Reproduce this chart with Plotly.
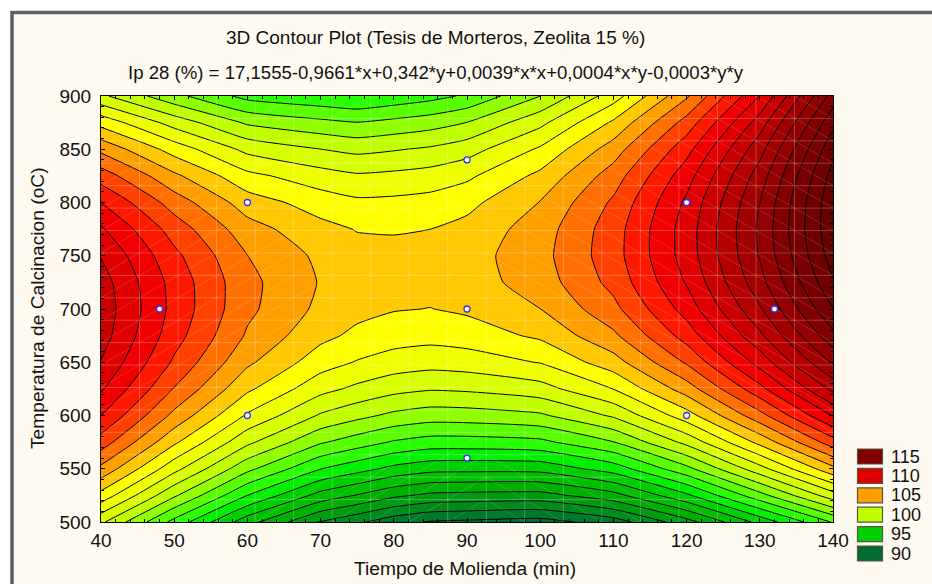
import plotly.graph_objects as go
import numpy as np

title_line1 = "3D Contour Plot (Tesis de Morteros, Zeolita 15 %)"
title_line2 = "Ip 28 (%) = 17,1555-0,9661*x+0,342*y+0,0039*x*x+0,0004*x*y-0,0003*y*y"
x_title = "Tiempo de Molienda (min)"
y_title = "Temperatura de Calcinacion (oC)"

x_values = [40, 50, 60, 70, 75, 80, 85, 90, 100, 110, 120, 130, 140]
y_values = [500, 525, 550, 575, 600, 625, 650, 675, 700, 725, 750, 775, 800, 825, 850, 875, 900]

z_x040 = [100.2, 102.64, 104.75, 106.54, 108.0, 109.14, 109.95, 110.44, 110.6, 110.44, 109.95, 109.14, 108.0, 106.54, 104.75, 102.64, 100.2]
z_x050 = [96.67, 99.16, 101.33, 103.19, 104.73, 105.94, 106.84, 107.42, 107.68, 107.63, 107.25, 106.56, 105.54, 104.21, 102.56, 100.59, 98.3]
z_x060 = [93.4, 96.0, 98.27, 100.23, 101.87, 103.19, 104.19, 104.87, 105.23, 105.28, 105.01, 104.41, 103.5, 102.27, 100.72, 98.85, 96.67]
z_x070 = [90.91, 93.63, 96.03, 98.12, 99.88, 101.33, 102.46, 103.27, 103.76, 103.93, 103.78, 103.32, 102.53, 101.43, 100.01, 98.27, 96.21]
z_x075 = [90.19, 92.94, 95.38, 97.49, 99.29, 100.77, 101.93, 102.77, 103.29, 103.5, 103.38, 102.95, 102.2, 101.13, 99.74, 98.03, 96.0]
z_x080 = [89.39, 92.21, 94.72, 96.9, 98.77, 100.32, 101.55, 102.46, 103.06, 103.33, 103.28, 102.92, 102.24, 101.24, 99.92, 98.28, 96.32]
z_x085 = [88.91, 91.78, 94.34, 96.57, 98.49, 100.09, 101.38, 102.34, 102.98, 103.31, 103.31, 103.0, 102.37, 101.42, 100.15, 98.56, 96.66]
z_x090 = [88.79, 91.7, 94.3, 96.57, 98.53, 100.17, 101.49, 102.49, 103.17, 103.53, 103.58, 103.31, 102.71, 101.8, 100.57, 99.02, 97.15]
z_x100 = [88.58, 91.63, 94.35, 96.75, 98.84, 100.6, 102.05, 103.18, 103.99, 104.48, 104.65, 104.5, 104.04, 103.25, 102.15, 100.73, 98.99]
z_x110 = [89.49, 92.64, 95.46, 97.97, 100.15, 102.02, 103.57, 104.8, 105.71, 106.31, 106.58, 106.53, 106.17, 105.49, 104.49, 103.17, 101.53]
z_x120 = [91.59, 94.81, 97.71, 100.29, 102.56, 104.5, 106.13, 107.43, 108.42, 109.09, 109.44, 109.47, 109.19, 108.58, 107.66, 106.41, 104.85]
z_x130 = [94.33, 97.64, 100.63, 103.3, 105.66, 107.69, 109.4, 110.8, 111.88, 112.64, 113.08, 113.2, 113.0, 112.48, 111.65, 110.49, 109.02]
z_x140 = [97.09, 100.56, 103.72, 106.55, 109.07, 111.27, 113.15, 114.71, 115.96, 116.88, 117.49, 117.77, 117.74, 117.39, 116.72, 115.73, 114.43]
z_columns = [z_x040, z_x050, z_x060, z_x070, z_x075, z_x080, z_x085, z_x090, z_x100, z_x110, z_x120, z_x130, z_x140]

point_x = [48, 60, 60, 90, 90, 90, 120, 120, 132]
point_y = [700, 600, 800, 560, 700, 840, 600, 800, 700]

level_start = 89
level_end = 118
# one colour per band, from below level_start up to above level_end
band_colors = [
    "#006b32", "#007a2a", "#008c1c", "#009c10", "#00b000", "#00c000", "#00d000",
    "#00f000", "#28ff00", "#58ff00", "#90ff00", "#c0ff00", "#d8ff00", "#eeff00",
    "#ffff00", "#ffc800", "#ffa000", "#ff7000", "#ff4000", "#ff1800", "#f00000", "#e00000",
    "#c80000", "#b40000", "#a20000", "#920000", "#800000", "#780000", "#700000", "#680000", "#600000",
]

legend_labels = ["115", "110", "105", "100", "95", "90"]
legend_colors = ["#800000", "#e00000", "#ffa000", "#c0ff00", "#00d000", "#006b32"]

x_ticks = [40, 50, 60, 70, 80, 90, 100, 110, 120, 130, 140]
y_ticks = [500, 550, 600, 650, 700, 750, 800, 850, 900]

PLOT_L, PLOT_R, PLOT_T, PLOT_B = 101, 833, 96, 522
def px(v):
    return (v - PLOT_L) / (PLOT_R - PLOT_L)
def py(v):
    return (PLOT_B - v) / (PLOT_B - PLOT_T)

z = np.array(z_columns).T
n_bands = len(band_colors) - 1
colorscale = [[i / n_bands, c] for i, c in enumerate(band_colors)]

fig = go.Figure()
fig.add_trace(go.Contour(
    x=x_values, y=y_values, z=z,
    colorscale=colorscale, showscale=False,
    autocontour=False,
    contours=dict(coloring="fill", start=level_start, end=level_end, size=1),
    line=dict(color="black", width=1, smoothing=0.5),
    hoverinfo="skip",
))

# pale triangulated mesh of the surface
mesh_x = np.linspace(40, 140, 20)
mesh_y = np.linspace(500, 900, 20)
gx, gy = [], []
for v in mesh_x[1:-1]:
    gx += [v, v, None]; gy += [500, 900, None]
for v in mesh_y[1:-1]:
    gx += [40, 140, None]; gy += [v, v, None]
fig.add_trace(go.Scatter(x=gx, y=gy, mode="lines", hoverinfo="skip", showlegend=False,
                         line=dict(color="rgba(255,255,255,0.24)", width=1)))
dx, dy = [], []
for i in range(19):
    for j in range(19):
        if i < 10:
            dx += [mesh_x[i], mesh_x[i + 1], None]; dy += [mesh_y[j], mesh_y[j + 1], None]
        else:
            dx += [mesh_x[i], mesh_x[i + 1], None]; dy += [mesh_y[j + 1], mesh_y[j], None]
fig.add_trace(go.Scatter(x=dx, y=dy, mode="lines", hoverinfo="skip", showlegend=False,
                         line=dict(color="rgba(255,255,255,0.14)", width=1)))

fig.add_trace(go.Scatter(x=point_x, y=point_y, mode="markers", hoverinfo="skip", showlegend=False,
                         marker=dict(color="white", size=6, line=dict(color="#3030ff", width=1.3))))

shapes = [dict(type="rect", xref="paper", yref="paper", layer="below",
               x0=px(12), x1=px(960), y0=py(12.5), y1=py(610),
               fillcolor="#fffaf0", line=dict(color="#5f5f5f", width=3.5))]
annotations = [
    dict(text=title_line1, x=px(435.5), y=py(37), xref="paper", yref="paper", showarrow=False,
         font=dict(size=19, color="#111111"), xanchor="center", yanchor="middle"),
    dict(text=title_line2, x=px(435.5), y=py(72), xref="paper", yref="paper", showarrow=False,
         font=dict(size=18.6, color="#111111"), xanchor="center", yanchor="middle"),
    dict(text=x_title, x=px(465), y=py(568), xref="paper", yref="paper", showarrow=False,
         font=dict(size=19.2, color="#111111"), xanchor="center", yanchor="middle"),
    dict(text=y_title, x=px(37), y=py(308), xref="paper", yref="paper", showarrow=False, textangle=-90,
         font=dict(size=19.2, color="#111111"), xanchor="center", yanchor="middle"),
]
for i, (lab, col) in enumerate(zip(legend_labels, legend_colors)):
    top = 449 + 19.4 * i
    shapes.append(dict(type="rect", xref="paper", yref="paper", x0=px(857.5), x1=px(882.5),
                       y0=py(top), y1=py(top + 15), fillcolor=col, line=dict(color="#555544", width=1.2)))
    annotations.append(dict(text=lab, x=px(889), y=py(top + 7.5), xref="paper", yref="paper", showarrow=False,
                            font=dict(size=18, color="#111111"), xanchor="left", yanchor="middle"))

axis_common = dict(ticks="inside", ticklen=4, tickcolor="black", tickwidth=1, showgrid=False, zeroline=False,
                   showline=True, linecolor="black", linewidth=1, mirror="ticks",
                   tickfont=dict(size=19, color="#111111"))
fig.update_layout(
    width=932, height=584,
    margin=dict(l=PLOT_L, r=932 - PLOT_R, t=PLOT_T, b=584 - PLOT_B, autoexpand=False),
    paper_bgcolor="white", plot_bgcolor="white",
    font=dict(family="Liberation Sans, Arial, sans-serif"),
    showlegend=False, shapes=shapes, annotations=annotations,
    xaxis=dict(range=[40, 140], tickvals=x_ticks, ticklabelstandoff=1,
               minor=dict(dtick=2, ticks="inside", ticklen=3, tickcolor="black"), **axis_common),
    yaxis=dict(range=[500, 900], tickvals=y_ticks, ticklabelstandoff=5,
               minor=dict(dtick=10, ticks="inside", ticklen=3, tickcolor="black"), **axis_common),
)
fig.write_html("out.html", config=dict(displayModeBar=False),
               post_script="document.body.style.margin='0';document.body.style.overflow='hidden';")
